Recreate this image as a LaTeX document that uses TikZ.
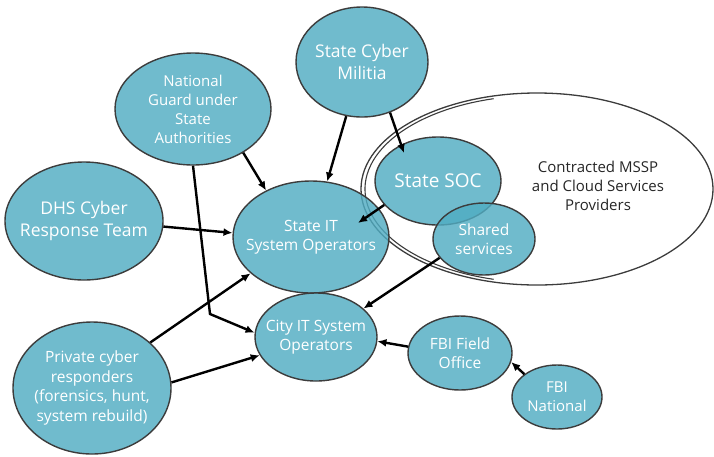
\documentclass[tikz,border=0pt]{standalone}
\usepackage{fontspec}
\setmainfont{Open Sans}
\usetikzlibrary{shapes.geometric,arrows.meta,calc}
\definecolor{myteal}{RGB}{80,172,194}
\definecolor{outl}{RGB}{60,60,60}
\begin{document}
\begin{tikzpicture}[x=1pt,y=-1pt,
  bub/.style={ellipse, draw=outl, line width=1.4pt, fill=myteal, fill opacity=0.82,
    text opacity=1, text=white, align=center, inner sep=-40pt},
  arr/.style={line width=2.4pt, -{Latex[length=9pt,width=8pt]}},
  fbig/.style={font=\fontsize{17.5}{22}\selectfont},
  fmid/.style={font=\fontsize{15.5}{19.5}\selectfont},
  fsml/.style={font=\fontsize{15}{19}\selectfont}]
\useasboundingbox (0,0) rectangle (714,456);

% big contracted ellipse
\node[ellipse, draw=outl, line width=1.3pt, minimum width=352pt, minimum height=192pt, inner sep=0pt] (mssp) at (537,189) {};
\draw[outl, line width=1.1pt] (493.6,279.3) arc[start angle=105, end angle=255, x radius=173.5, y radius=93.5];
\node[fsml, align=center, text=black!85] (mssptxt) at (598,186) {Contracted MSSP\\and Cloud Services\\Providers};

% bubbles
\node[bub, fbig, minimum width=132pt, minimum height=110pt] (mil) at (362,62) {State Cyber\\Militia};
\node[bub, fsml, minimum width=156pt, minimum height=112pt] (ng) at (193,109) {National\\Guard under\\State\\Authorities};
\node[bub, fbig, minimum width=158pt, minimum height=118pt] (dhs) at (84,221) {DHS Cyber\\Response Team};
\node[bub, fmid, minimum width=156pt, minimum height=112pt] (sit) at (311,237) {State IT\\System Operators};
\node[bub, font=\fontsize{19}{22}\selectfont, minimum width=126pt, minimum height=88pt] (soc) at (438,181) {State SOC};
\node[bub, fmid, minimum width=102pt, minimum height=72pt] (shr) at (484,239) {Shared\\services};
\node[bub, fmid, minimum width=122pt, minimum height=88pt] (city) at (316,337) {City IT System\\Operators};
\node[bub, fmid, minimum width=104pt, minimum height=74pt] (fld) at (460,353) {FBI Field\\Office};
\node[bub, fsml, minimum width=90pt, minimum height=64pt] (nat) at (557,397) {FBI\\National};
\node[bub, fmid, minimum width=158pt, minimum height=132pt] (prv) at (92,388) {Private cyber\\responders\\(forensics, hunt,\\system rebuild)};

% helper coordinates
\coordinate (bend) at (210,314);
\coordinate (socin) at ([xshift=-34pt,yshift=28pt]soc.center);
\coordinate (sitin) at ([xshift=47pt,yshift=14pt]sit.center);

% arrows
\draw[arr] (mil) -- (sit);
\draw[arr] (mil.-61) -- (socin);
\draw[arr] (ng.-41) -- (sit.134);
\draw[arr] (ng.south) -- (bend) -- (city.176);
\draw[arr] (dhs.-4) -- (sit.177);
\draw[arr] (soc.204) -- (sitin);
\draw[arr] (shr.203) -- (city.31);
\draw[arr] (prv.38) -- (sit.211);
\draw[arr] (prv.4) -- (city.198);
\draw[arr] (fld.173) -- (city.-4);
\draw[arr] (nat.145) -- (fld.-10);
\end{tikzpicture}
\end{document}
